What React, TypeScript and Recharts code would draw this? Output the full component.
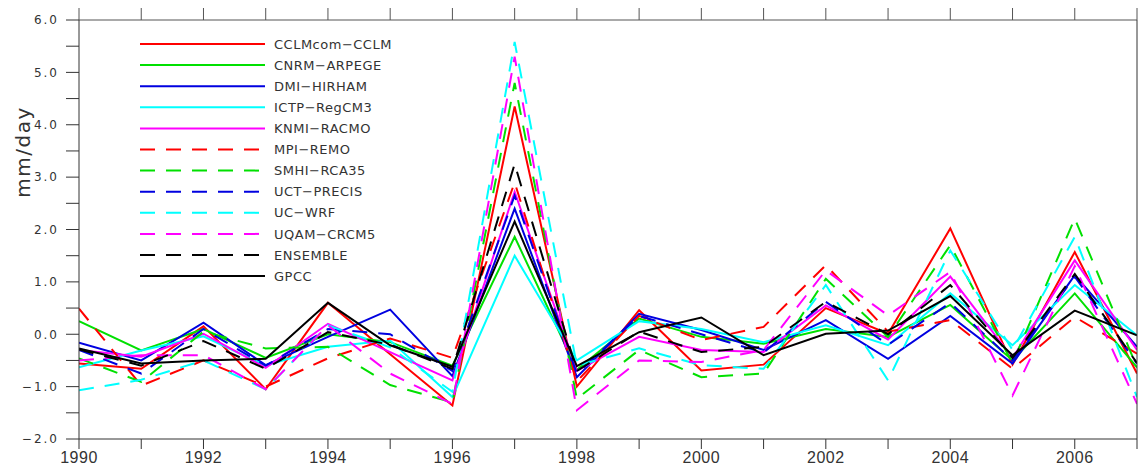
import React from 'react';
import { LineChart, Line, XAxis, YAxis } from 'recharts';

const years = [1990, 1991, 1992, 1993, 1994, 1995, 1996, 1997, 1998, 1999, 2000, 2001, 2002, 2003, 2004, 2005, 2006, 2007];

const cclm = [-0.56, -0.66, 0.15, -1.05, 0.6, -0.38, -1.36, 4.35, -1.0, 0.46, -0.69, -0.58, 0.5, 0.01, 2.02, -0.58, 1.57, -0.75];
const cnrm = [0.25, -0.31, 0.1, -0.45, 0.0, -0.15, -0.6, 1.86, -0.68, 0.3, -0.05, -0.18, 0.1, -0.05, 0.56, -0.5, 0.78, -0.63];
const dmi = [-0.16, -0.5, 0.22, -0.59, -0.05, 0.47, -0.8, 2.4, -0.82, 0.39, 0.08, -0.3, 0.27, -0.47, 0.35, -0.56, 1.13, -0.24];
const ictp = [-0.63, -0.31, -0.04, -0.6, -0.24, -0.12, -1.2, 1.5, -0.5, 0.25, 0.1, -0.15, 0.17, -0.21, 0.78, -0.21, 0.94, -0.02];
const knmi = [-0.3, -0.43, 0.01, -0.64, 0.2, -0.34, -0.88, 2.72, -0.7, -0.05, -0.3, -0.34, 0.55, -0.1, 1.1, -0.45, 1.41, -0.3];
const mpi = [0.49, -0.98, -0.5, -1.0, -0.46, -0.08, -0.45, 2.9, -0.9, 0.35, -0.11, 0.14, 1.32, 0.05, 0.27, -0.66, 0.33, -0.37];
const smhi = [-0.46, -0.91, 0.05, -0.27, -0.24, -0.97, -1.3, 4.8, -1.23, -0.3, -0.82, -0.75, 1.06, -0.05, 1.7, -0.55, 2.21, -0.63];
const uct = [-0.3, -0.75, 0.1, -0.6, 0.1, 0.0, -0.7, 2.65, -0.75, 0.35, 0.0, -0.35, 0.62, -0.2, 0.6, -0.5, 1.1, -0.56];
const ucwrf = [-1.07, -0.87, -0.5, -1.05, 0.17, -0.25, -1.1, 5.58, -0.6, -0.27, -0.59, -0.66, 0.94, -0.88, 1.6, -0.3, 1.86, -1.2];
const uqam = [-0.5, -0.4, -0.4, -1.05, 0.17, -0.75, -1.33, 5.3, -1.45, -0.5, -0.53, -0.3, 1.22, 0.36, 1.19, -1.17, 1.3, -1.33];
const ensemble = [-0.29, -0.6, -0.13, -0.66, 0.04, -0.2, -0.66, 3.25, -0.7, 0.05, -0.34, -0.24, 0.62, 0.0, 0.94, -0.45, 1.15, -0.55];
const gpcc = [-0.27, -0.56, -0.5, -0.47, 0.6, -0.21, -0.62, 2.15, -0.61, 0.04, 0.32, -0.4, 0.01, 0.07, 0.73, -0.4, 0.45, -0.02];

const seriesNames = ['CCLMcom−CCLM', 'CNRM−ARPEGE', 'DMI−HIRHAM', 'ICTP−RegCM3', 'KNMI−RACMO', 'MPI−REMO', 'SMHI−RCA35', 'UCT−PRECIS', 'UC−WRF', 'UQAM−CRCM5', 'ENSEMBLE', 'GPCC'];
const seriesValues = [cclm, cnrm, dmi, ictp, knmi, mpi, smhi, uct, ucwrf, uqam, ensemble, gpcc];
const seriesColors = ['#ff0000', '#00e000', '#0000e0', '#00ffff', '#ff00ff', '#ff0000', '#00e000', '#0000e0', '#00ffff', '#ff00ff', '#000000', '#000000'];
const seriesDashed = [false, false, false, false, false, true, true, true, true, true, true, false];

const yTicks = [-2, -1.5, -1, -0.5, 0, 0.5, 1, 1.5, 2, 2.5, 3, 3.5, 4, 4.5, 5, 5.5, 6];

const data = years.map((yr, i) => {
  const row: Record<string, number> = { year: yr };
  seriesValues.forEach((vals, k) => {
    row['s' + k] = vals[i];
  });
  return row;
});

const fmtY = (v: number) => {
  if (!Number.isInteger(v)) return '';
  return v < 0 ? '−' + Math.abs(v).toFixed(1) : v.toFixed(1);
};

const axisColor = '#333';
const textColor = '#333';
const dash = '15 11';

export default function App() {
  return (
    <div style={{ position: 'absolute', left: 0, top: 0, width: 1140, height: 475, background: '#fff' }}>
      <LineChart width={1140} height={475} data={data} margin={{ top: 8, right: 0, bottom: 0, left: 0 }}>
        <XAxis
          dataKey="year"
          type="number"
          domain={[1990, 2007]}
          ticks={years}
          interval={0}
          allowDataOverflow
          tickFormatter={(v: number) => (v % 2 === 0 ? String(v) : '')}
          tickSize={10}
          tickMargin={3}
          height={36}
          stroke={axisColor}
          tick={{ fill: textColor, fontSize: 16, fontFamily: 'Liberation Sans', letterSpacing: 0.5 }}
        />
        <XAxis
          xAxisId="top"
          orientation="top"
          dataKey="year"
          type="number"
          domain={[1990, 2007]}
          ticks={years}
          interval={0}
          allowDataOverflow
          tickFormatter={() => ''}
          tickSize={12}
          height={12}
          stroke="#555"
        />
        <YAxis
          type="number"
          domain={[-2, 6]}
          ticks={yTicks}
          interval={0}
          allowDataOverflow
          tickFormatter={fmtY}
          tickSize={13}
          tickMargin={7}
          width={79}
          stroke={axisColor}
          tick={{ fill: textColor, fontSize: 12, fontFamily: 'DejaVu Sans', letterSpacing: 2 }}
        />
        <YAxis
          yAxisId="right"
          orientation="right"
          type="number"
          domain={[-2, 6]}
          ticks={yTicks}
          interval={0}
          tickFormatter={() => ''}
          tickSize={5}
          width={3}
          stroke={axisColor}
        />
        {seriesNames.map((name, k) => (
          <Line
            key={name}
            dataKey={'s' + k}
            name={name}
            type="linear"
            stroke={seriesColors[k]}
            strokeWidth={2}
            strokeDasharray={seriesDashed[k] ? dash : undefined}
            dot={false}
            activeDot={false}
            isAnimationActive={false}
          />
        ))}
      </LineChart>
      <svg width={1140} height={475} style={{ position: 'absolute', left: 0, top: 0, pointerEvents: 'none' }}>
        <text
          x={23}
          y={152}
          transform="rotate(-90, 23, 152)"
          textAnchor="middle"
          dominantBaseline="central"
          fontFamily="DejaVu Sans"
          fontSize={20}
          letterSpacing={1.5}
          fill={textColor}
        >
          mm/day
        </text>
        {seriesNames.map((name, k) => {
          const y = 44 + 21.1 * k;
          return (
            <g key={name}>
              <line
                x1={140}
                x2={265}
                y1={y}
                y2={y}
                stroke={seriesColors[k]}
                strokeWidth={2}
                strokeDasharray={seriesDashed[k] ? dash : undefined}
              />
              <text x={274} y={y} dy="0.36em" fontFamily="DejaVu Sans" fontSize={13} letterSpacing={0.5} fill={textColor}>
                {name}
              </text>
            </g>
          );
        })}
      </svg>
    </div>
  );
}
